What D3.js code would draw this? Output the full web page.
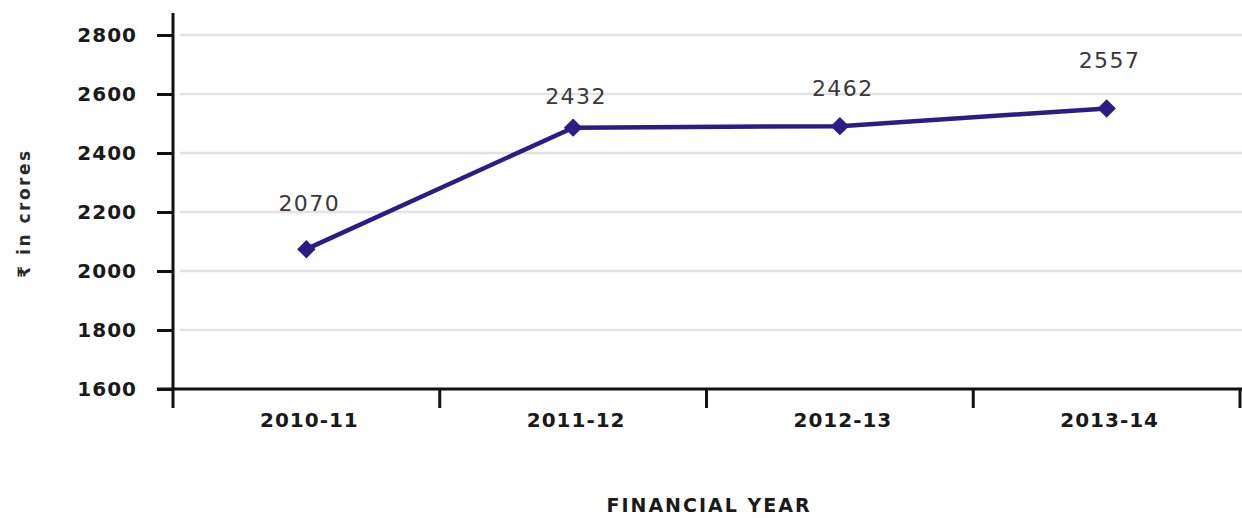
<!DOCTYPE html>
<html>
<head>
<meta charset="utf-8">
<script src="https://cdn.jsdelivr.net/npm/d3@7"></script>
<style>
  body { margin: 0; background: #fff; }
  svg { display: block; }
  .grid line { stroke: #e2e2e2; stroke-width: 2.5; }
  .tickLabel { font-family: "DejaVu Sans", sans-serif; font-weight: bold; fill: #1a1a1a; }
</style>
</head>
<body>
<svg class="chart" width="1242" height="518"></svg>
<script>
// data
var years = ["2010-11", "2011-12", "2012-13", "2013-14"];
var plotted = [2074, 2486, 2491, 2551];   // where the markers sit
var labels = [2070, 2432, 2462, 2557];    // the printed numbers
var yTicks = [1600, 1800, 2000, 2200, 2400, 2600, 2800];

var chart = d3.select(".chart");

var x = d3.scaleBand()
          .domain(years)
          .range([173, 1240])
          .padding(0);

var y = d3.scaleLinear()
          .domain([1600, 2800])
          .range([389, 35]);

// gridlines
chart.append("g")
     .attr("class", "grid")
     .selectAll("line")
     .data(yTicks.slice(1))
     .enter().append("line")
       .attr("x1", 180)
       .attr("x2", 1242)
       .attr("y1", function(d){ return y(d); })
       .attr("y2", function(d){ return y(d); });

// y axis
var yAxis = chart.append("g")
                 .attr("transform", "translate(173,0)")
                 .call(d3.axisLeft(y).tickValues(yTicks).tickSize(16).tickPadding(20).tickFormat(d3.format("d")));
yAxis.select(".domain").remove();
yAxis.selectAll(".tick line").attr("stroke", "#111").attr("stroke-width", 3);
yAxis.selectAll(".tick text")
     .attr("class", "tickLabel")
     .style("font-size", "20px")
     .style("letter-spacing", "1px");

chart.append("line")
     .attr("x1", 173).attr("x2", 173)
     .attr("y1", 13).attr("y2", 408)
     .attr("stroke", "#111").attr("stroke-width", 3);

// x axis
chart.append("line")
     .attr("x1", 157).attr("x2", 1242)
     .attr("y1", y(1600)).attr("y2", y(1600))
     .attr("stroke", "#111").attr("stroke-width", 3);

chart.selectAll(".xTick")
     .data(years.slice(1))
     .enter().append("line")
       .attr("class", "xTick")
       .attr("x1", function(d){ return x(d); })
       .attr("x2", function(d){ return x(d); })
       .attr("y1", y(1600))
       .attr("y2", y(1600) + 19)
       .attr("stroke", "#111").attr("stroke-width", 3);

chart.append("line")
     .attr("x1", 1240).attr("x2", 1240)
     .attr("y1", y(1600)).attr("y2", y(1600) + 19)
     .attr("stroke", "#111").attr("stroke-width", 3);

chart.selectAll(".xLabel")
     .data(years)
     .enter().append("text")
       .attr("class", "tickLabel")
       .attr("x", function(d){ return x(d) + x.bandwidth() / 2 + 3; })
       .attr("y", 427)
       .style("font-size", "20px")
       .style("letter-spacing", "1px")
       .style("text-anchor", "middle")
       .text(function(d){ return d; });

// series line
var cx = function(d, i){ return x(years[i]) + x.bandwidth() / 2; };

chart.append("path")
     .datum(plotted)
     .attr("fill", "none")
     .attr("stroke", "#2b1c86")
     .attr("stroke-width", 4.5)
     .attr("d", d3.line().x(cx).y(function(d){ return y(d); }));

chart.selectAll(".dot")
     .data(plotted)
     .enter().append("path")
       .attr("class", "dot")
       .attr("d", d3.symbol().type(d3.symbolSquare).size(170))
       .attr("fill", "#2b1c86")
       .attr("transform", function(d, i){
         return "translate(" + cx(d, i) + "," + y(d) + ") rotate(45)";
       });

// value labels
chart.selectAll(".valLabel")
     .data(labels)
     .enter().append("text")
       .attr("class", "valLabel")
       .attr("x", function(d, i){ return cx(d, i) + 3; })
       .attr("y", function(d){ return y(d) - 47; })
       .attr("dy", "0.36em")
       .style("font-family", "DejaVu Sans, sans-serif")
       .style("font-size", "22px")
       .style("letter-spacing", "1.5px")
       .style("fill", "#3a3a3a")
       .style("text-anchor", "middle")
       .text(function(d){ return d; });

// axis titles
chart.append("text")
     .attr("x", 709)
     .attr("y", 512)
     .style("font-family", "DejaVu Sans, sans-serif")
     .style("font-weight", "bold")
     .style("font-size", "19px")
     .style("letter-spacing", "2px")
     .style("fill", "#1a1a1a")
     .style("text-anchor", "middle")
     .text("FINANCIAL YEAR");

chart.append("text")
     .attr("transform", "translate(24,213) rotate(-90)")
     .attr("dy", "0.35em")
     .style("font-family", "DejaVu Sans, sans-serif")
     .style("font-weight", "bold")
     .style("font-size", "17px")
     .style("letter-spacing", "2.5px")
     .style("fill", "#2a2a2a")
     .style("text-anchor", "middle")
     .text("₹ in crores");
</script>
</body>
</html>
